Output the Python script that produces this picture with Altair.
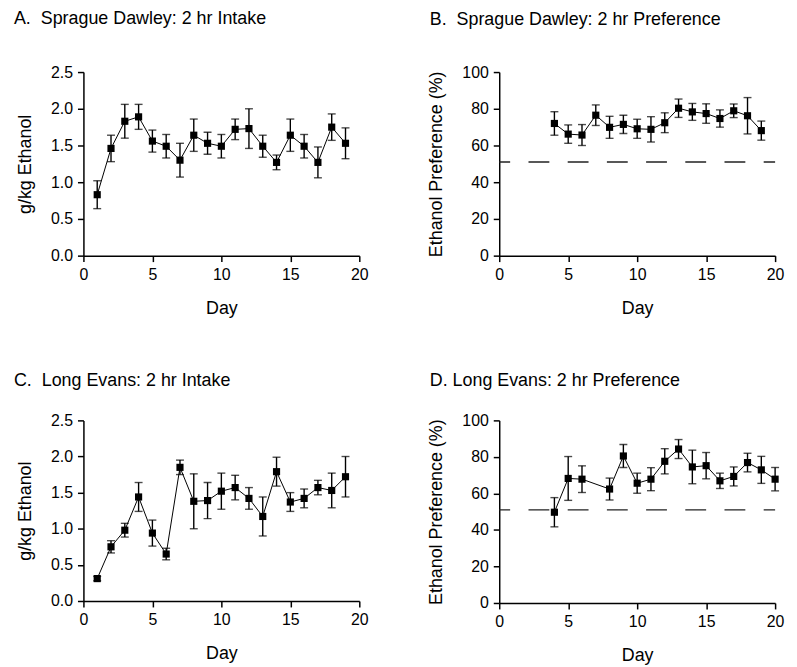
import altair as alt
import pandas as pd

# ---------------- data ----------------
sd_intake_days = list(range(1, 20))
sd_intake_mean = [0.83, 1.46, 1.83, 1.89, 1.56, 1.49, 1.30, 1.64, 1.53, 1.49,
                  1.72, 1.73, 1.49, 1.27, 1.64, 1.49, 1.27, 1.75, 1.53]
sd_intake_sem = [0.19, 0.18, 0.23, 0.17, 0.15, 0.16, 0.23, 0.22, 0.15, 0.16,
                 0.14, 0.27, 0.15, 0.10, 0.22, 0.16, 0.21, 0.18, 0.21]

sd_pref_days = list(range(4, 20))
sd_pref_mean = [72.0, 66.2, 65.7, 76.5, 69.9, 71.5, 69.1, 68.8, 72.4, 80.3,
                78.3, 77.4, 74.7, 78.9, 76.2, 68.1]
sd_pref_sem = [6.4, 5.0, 5.7, 5.6, 6.0, 5.0, 5.2, 6.9, 5.4, 5.0,
               4.6, 5.3, 4.7, 3.7, 9.9, 5.2]

le_intake_days = list(range(1, 20))
le_intake_mean = [0.31, 0.75, 0.98, 1.44, 0.94, 0.65, 1.85, 1.38, 1.39, 1.52,
                  1.57, 1.42, 1.17, 1.79, 1.37, 1.42, 1.57, 1.53, 1.72]
le_intake_sem = [0.03, 0.085, 0.095, 0.20, 0.18, 0.08, 0.10, 0.38, 0.25, 0.25,
                 0.17, 0.15, 0.27, 0.20, 0.13, 0.13, 0.10, 0.24, 0.28]

le_pref_days = [4, 5, 6, 8, 9, 10, 11, 12, 13, 14, 15, 16, 17, 18, 19, 20]
le_pref_mean = [49.7, 68.2, 67.8, 62.4, 80.5, 65.6, 67.8, 77.6, 84.3, 74.5,
                75.2, 66.9, 69.3, 76.9, 72.9, 67.8]
le_pref_sem = [8.0, 12.0, 7.3, 6.0, 6.3, 5.5, 6.3, 6.9, 5.2, 9.2,
               7.2, 4.2, 5.2, 5.1, 7.4, 6.4]

chance_level = 51
x_ticks = [0, 5, 10, 15, 20]
intake_ticks = [0.0, 0.5, 1.0, 1.5, 2.0, 2.5]
pref_ticks = [0, 20, 40, 60, 80, 100]

titles = ["A.\u00a0 Sprague Dawley: 2 hr Intake",
          "B.\u00a0 Sprague Dawley: 2 hr Preference",
          "C.\u00a0 Long Evans: 2 hr Intake",
          "D. Long Evans: 2 hr Preference"]

FONT = "Liberation Sans"
W = 278


def panel(days, mean, sem, title, ytitle, ydomain, yticks, yfmt, toff, h, chance=None):
    df = pd.DataFrame({"day": days, "mean": mean, "sem": sem})
    df["lo"] = df["mean"] - df["sem"]
    df["hi"] = df["mean"] + df["sem"]
    x = alt.X("day:Q", scale=alt.Scale(domain=[0, 20], nice=False),
              axis=alt.Axis(values=x_ticks, title="Day", format="d", tickCount=20))
    y = alt.Y("mean:Q", scale=alt.Scale(domain=ydomain, nice=False),
              axis=alt.Axis(values=yticks, title=ytitle, format=yfmt, tickCount=20))
    base = alt.Chart(df)
    rule = base.mark_rule(color="black", strokeWidth=1.4).encode(x=x, y="lo:Q", y2="hi:Q")
    cap_hi = base.mark_tick(orient="horizontal", color="black", size=8, thickness=1.4).encode(x=x, y="hi:Q")
    cap_lo = base.mark_tick(orient="horizontal", color="black", size=8, thickness=1.4).encode(x=x, y="lo:Q")
    line = base.mark_line(color="black", strokeWidth=1).encode(x=x, y=y)
    pts = base.mark_square(color="black", size=52, opacity=1, filled=True).encode(x=x, y=y)
    layers = []
    if chance is not None:
        cdf = pd.DataFrame({"x0": [0], "x1": [20], "c": [chance]})
        dash = alt.Chart(cdf).mark_rule(color="#222222", strokeWidth=1.4,
                                        strokeDash=[21, 18.5], strokeDashOffset=10).encode(
            x="x0:Q", x2="x1:Q", y="c:Q")
        layers.append(dash)
    layers += [rule, cap_hi, cap_lo, line, pts]
    return alt.layer(*layers).properties(
        width=W, height=h,
        title=alt.TitleParams(title, anchor="start", frame="group", dx=-70,
                              offset=toff, fontSize=18,
                              font=FONT, fontWeight="normal", color="black"))


a = panel(sd_intake_days, sd_intake_mean, sd_intake_sem, titles[0], "g/kg Ethanol",
          [0, 2.5], intake_ticks, ".1f", 36, 185)
b = panel(sd_pref_days, sd_pref_mean, sd_pref_sem, titles[1], "Ethanol Preference (%)",
          [0, 100], pref_ticks, "d", 35, 185, chance_level)
c = panel(le_intake_days, le_intake_mean, le_intake_sem, titles[2], "g/kg Ethanol",
          [0, 2.5], intake_ticks, ".1f", 23, 182)
d = panel(le_pref_days, le_pref_mean, le_pref_sem, titles[3], "Ethanol Preference (%)",
          [0, 100], pref_ticks, "d", 23, 184, chance_level)

top = alt.hconcat(a, b, spacing=60)
bottom = alt.hconcat(c, d, spacing=60)
chart = alt.vconcat(top, bottom, spacing=55).properties(
    padding={"left": 6, "top": 0, "right": 5, "bottom": 5}
).configure_view(stroke=None).configure_axis(
    grid=False, domainColor="black", domainWidth=1.5, tickColor="black", tickWidth=1.5,
    tickSize=6, labelFont=FONT, labelFontSize=16, labelColor="black", labelPadding=5,
    titleFont=FONT, titleFontSize=18, titleFontWeight="normal", titleColor="black",
    labelFlush=False, labelOverlap=False
).configure_axisX(titlePadding=17).configure_axisY(titlePadding=16)

chart.save("out.html", embed_options={"renderer": "svg", "actions": False})
